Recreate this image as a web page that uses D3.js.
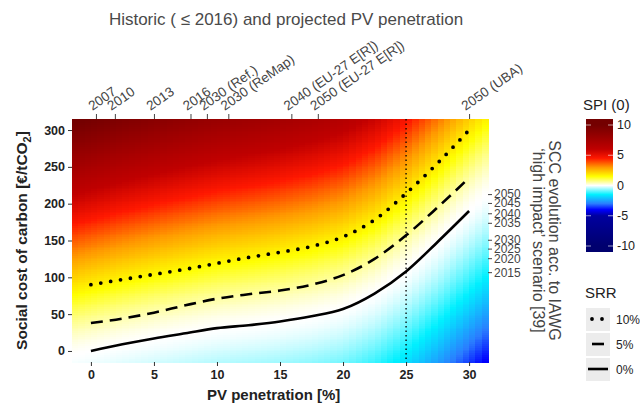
<!DOCTYPE html>
<html>
<head>
<meta charset="utf-8">
<script src="https://cdn.jsdelivr.net/npm/d3@7"></script>
<style>
  body { margin: 0; background: #fff; }
  text { font-family: "Liberation Sans", Arial, sans-serif; }
</style>
</head>
<body>
<div id="chart-area"></div>
<script>
// PV penetration [%] sample points of the three SRR curves
const pv = [0, 2.5, 5, 7.5, 10, 12.5, 15, 17.5, 20, 22.5, 25, 27.5, 30];
// social cost of carbon where SPI = 0, per SRR
const srr0 = [0, 9, 17, 24, 31, 35, 40, 47, 57, 78, 108, 148, 190];
const srr5 = [38, 44, 52, 62, 71, 77, 82, 90, 103, 125, 157, 195, 235];
const srr10 = [90, 97, 104, 111, 119, 127, 134, 142, 155, 178, 214, 255, 300];

// top axis: historic / projected PV penetration
const topTicks = [0.4, 1.9, 5.0, 7.9, 9.2, 10.9, 15.9, 18.0, 30.0];
const topLabels = ['2007', '2010', '2013', '2016', '2030 (Ref.)', '2030 (ReMap)',
  '2040 (EU-27 E[R])', '2050 (EU-27 E[R])', '2050 (UBA)'];

// right axis: SCC evolution (IAWG high impact)
const yearScc = [213, 201, 187, 174, 151, 139, 126, 107];
const yearLabels = ['2050', '2045', '2040', '2035', '2030', '2025', '2020', '2015'];

// SPI colour scale
const spiStops = [-10, -5, -4, -3, -1.5, 0, 1.5, 3, 4.5, 6, 10];
const spiColors = ['#00006e', '#0000a0', '#0000ff', '#2a7dff', '#00f0ff', '#ffffff',
  '#ffff00', '#ff9a00', '#ff1800', '#c00000', '#740000'];
const spiTicks = [10, 5, 0, -5, -10];

const xTicks = [0, 5, 10, 15, 20, 25, 30];
const yTicks = [0, 50, 100, 150, 200, 250, 300];

const W = 640, H = 403;
const margin = { left: 72, right: 152, top: 119, bottom: 41 };
const width = W - margin.left - margin.right;
const height = H - margin.top - margin.bottom;

const svg = d3.select('#chart-area').append('svg')
  .attr('width', W)
  .attr('height', H);

const g = svg.append('g')
  .attr('transform', 'translate(' + margin.left + ', ' + margin.top + ')');

const x = d3.scaleLinear().domain([-1.5, 31.5]).range([0, width]);
const y = d3.scaleLinear().domain([-15, 315]).range([height, 0]);
const color = d3.scaleLinear().domain(spiStops).range(spiColors).clamp(true);

// SPI field, zero along the SRR 0% curve
const zeroLine = d3.scaleLinear().domain(pv).range(srr0);
function spi(px, scc) {
  const d = (scc - zeroLine(px)) / 100;
  if (d >= 0) return 2.0 * Math.pow(d, 1.4) * (1 - 0.006 * px);
  return -1.3 * Math.pow(-d, 1.4);
}

// Heatmap cells
const dx = 0.5, dy = 2.5;
const cells = [];
for (let cx = -1.5; cx < 31.5; cx += dx) {
  for (let cy = -15; cy < 315; cy += dy) {
    cells.push({ x: cx, y: cy, v: spi(cx + dx / 2, cy + dy / 2) });
  }
}
g.append('g').selectAll('rect')
  .data(cells)
  .enter().append('rect')
  .attr('x', (d) => x(d.x))
  .attr('y', (d) => y(d.y + dy))
  .attr('width', x(dx) - x(0) + 0.5)
  .attr('height', y(0) - y(dy) + 0.5)
  .attr('fill', (d) => color(d.v))
  .attr('shape-rendering', 'crispEdges');

// vertical dotted marker at 25 %
g.append('line')
  .attr('x1', x(25)).attr('x2', x(25))
  .attr('y1', 0).attr('y2', height)
  .attr('stroke', '#000')
  .attr('stroke-width', 1.3)
  .attr('stroke-dasharray', '1.5,3');

// SRR curves
const line = d3.line()
  .x((d) => x(d[0]))
  .y((d) => y(d[1]))
  .curve(d3.curveMonotoneX);

const curves = [
  { vals: srr10, dash: '0,10', w: 3.8 },
  { vals: srr5, dash: '12,7', w: 2.6 },
  { vals: srr0, dash: null, w: 2.6 }
];
curves.forEach((c) => {
  g.append('path')
    .datum(pv.map((p, i) => [p, c.vals[i]]))
    .attr('d', line)
    .attr('fill', 'none')
    .attr('stroke', '#000')
    .attr('stroke-width', c.w)
    .attr('stroke-linecap', c.dash && c.dash.startsWith('0') ? 'round' : 'butt')
    .attr('stroke-dasharray', c.dash);
});

// Bottom axis
const xAxis = g.append('g')
  .attr('transform', 'translate(0, ' + height + ')')
  .call(d3.axisBottom(x).tickValues(xTicks).tickSize(4).tickPadding(4));
xAxis.select('.domain').remove();
xAxis.selectAll('line').attr('stroke', '#333');
xAxis.selectAll('text')
  .attr('font-size', '12.5px').attr('font-weight', 'bold').attr('fill', '#222')
  .attr('font-family', '"Liberation Sans", Arial, sans-serif');

// Left axis
const yAxis = g.append('g')
  .call(d3.axisLeft(y).tickValues(yTicks).tickSize(4).tickPadding(3));
yAxis.select('.domain').remove();
yAxis.selectAll('line').attr('stroke', '#333');
yAxis.selectAll('text')
  .attr('font-size', '12.5px').attr('font-weight', 'bold').attr('fill', '#222')
  .attr('font-family', '"Liberation Sans", Arial, sans-serif');

// Top axis
const tAxis = g.append('g')
  .call(d3.axisTop(x).tickValues(topTicks).tickSize(5).tickFormat((d, i) => topLabels[i]));
tAxis.select('.domain').remove();
tAxis.selectAll('line').attr('stroke', '#444');
tAxis.selectAll('text')
  .attr('font-size', '13.5px').attr('fill', '#444')
  .attr('font-family', '"Liberation Sans", Arial, sans-serif')
  .attr('text-anchor', 'start')
  .attr('dy', null)
  .attr('y', 0)
  .attr('transform', 'translate(-4,-8) rotate(-35)');

// Right axis (years)
const rAxis = g.append('g')
  .attr('transform', 'translate(' + width + ', 0)')
  .call(d3.axisRight(y).tickValues(yearScc).tickSize(4).tickPadding(2)
    .tickFormat((d, i) => yearLabels[i]));
rAxis.select('.domain').remove();
rAxis.selectAll('line').attr('stroke', '#444');
rAxis.selectAll('text')
  .attr('font-size', '12px').attr('fill', '#444')
  .attr('font-family', '"Liberation Sans", Arial, sans-serif');

// Axis titles
svg.append('text')
  .attr('x', 286).attr('y', 25)
  .attr('text-anchor', 'middle')
  .attr('font-size', '17px').attr('fill', '#4a4a4a')
  .text('Historic ( \u2264 2016) and projected PV penetration');

svg.append('text')
  .attr('x', margin.left + x(14.5)).attr('y', 400)
  .attr('text-anchor', 'middle')
  .attr('font-size', '15px').attr('font-weight', 'bold').attr('fill', '#222')
  .text('PV penetration [%]');

const yl = svg.append('text')
  .attr('transform', 'translate(27, ' + (margin.top + height / 2) + ') rotate(-90)')
  .attr('text-anchor', 'middle')
  .attr('font-size', '15.5px').attr('font-weight', 'bold').attr('fill', '#222');
yl.append('tspan').text('Social cost of carbon [\u20ac/tCO');
yl.append('tspan').attr('font-size', '11px').attr('dy', 4).text('2');
yl.append('tspan').attr('dy', -4).text(']');

const rt = svg.append('g')
  .attr('transform', 'translate(546, ' + (margin.top + height / 2) + ') rotate(90)');
rt.append('text')
  .attr('text-anchor', 'middle').attr('y', -3)
  .attr('font-size', '16px').attr('fill', '#444')
  .text('SCC evolution acc. to IAWG');
rt.append('text')
  .attr('text-anchor', 'middle').attr('y', 13)
  .attr('font-size', '16px').attr('fill', '#444')
  .text('\u2018high impact\u2019 scenario [39]');

// SPI colourbar legend
const lg = svg.append('g').attr('transform', 'translate(586, 0)');
lg.append('text')
  .attr('x', -3).attr('y', 110)
  .attr('font-size', '15px').attr('fill', '#222')
  .text('SPI (0)');
const cb = d3.scaleLinear().domain([10, -10]).range([125, 246]);
const defs = svg.append('defs');
const grad = defs.append('linearGradient')
  .attr('id', 'spigrad').attr('x1', 0).attr('y1', 0).attr('x2', 0).attr('y2', 1);
spiStops.slice().reverse().forEach((s) => {
  grad.append('stop')
    .attr('offset', (cb(s) - cb(10)) / (cb(-10) - cb(10)))
    .attr('stop-color', color(s));
});
lg.append('rect')
  .attr('x', 0).attr('y', cb(10) - 6)
  .attr('width', 27).attr('height', cb(-10) - cb(10) + 12)
  .attr('fill', color(10));
lg.append('rect')
  .attr('x', 0).attr('y', cb(-10))
  .attr('width', 27).attr('height', 6)
  .attr('fill', color(-10));
lg.append('rect')
  .attr('x', 0).attr('y', cb(10))
  .attr('width', 27).attr('height', cb(-10) - cb(10))
  .attr('fill', 'url(#spigrad)');
spiTicks.forEach((t) => {
  lg.append('line').attr('x1', 0).attr('x2', 5).attr('y1', cb(t)).attr('y2', cb(t))
    .attr('stroke', '#fff').attr('stroke-opacity', 0.6);
  lg.append('line').attr('x1', 22).attr('x2', 27).attr('y1', cb(t)).attr('y2', cb(t))
    .attr('stroke', '#fff').attr('stroke-opacity', 0.6);
  lg.append('text')
    .attr('x', 31).attr('y', cb(t) + 4)
    .attr('font-size', '12.5px').attr('fill', '#222')
    .text(t);
});

// SRR legend
const sl = svg.append('g').attr('transform', 'translate(586, 0)');
sl.append('text')
  .attr('x', -1).attr('y', 298)
  .attr('font-size', '15px').attr('fill', '#222')
  .text('SRR');
const srrKeys = [
  { label: '10%', dash: '0,10', w: 3.8, cap: 'round' },
  { label: '5%', dash: '12,20', w: 2.6, cap: 'butt' },
  { label: '0%', dash: null, w: 2.6, cap: 'butt' }
];
srrKeys.forEach((k, i) => {
  const cy = 319 + i * 25;
  sl.append('rect')
    .attr('x', 0).attr('y', cy - 11)
    .attr('width', 24).attr('height', 23)
    .attr('fill', '#ececec');
  sl.append('line')
    .attr('x1', k.cap === 'round' ? 6 : 2).attr('x2', 22)
    .attr('y1', cy).attr('y2', cy)
    .attr('stroke', '#000').attr('stroke-width', k.w)
    .attr('stroke-linecap', k.cap)
    .attr('stroke-dasharray', k.dash)
    .attr('stroke-dashoffset', k.label === '5%' ? -4 : 0);
  sl.append('text')
    .attr('x', 30).attr('y', cy + 5)
    .attr('font-size', '12px').attr('fill', '#222')
    .text(k.label);
});
</script>
</body>
</html>
